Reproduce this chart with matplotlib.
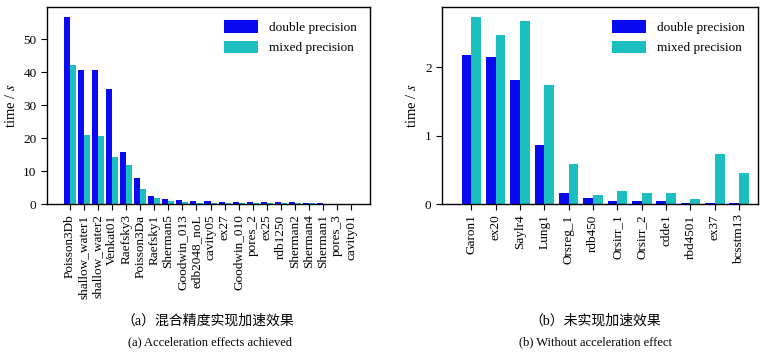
import matplotlib
matplotlib.use("Agg")
import matplotlib.pyplot as plt
import numpy as np

plt.rcParams['font.family'] = ['Liberation Serif', 'Noto Sans CJK SC']
plt.rcParams['font.size'] = 9
plt.rcParams['mathtext.fontset'] = 'stix'

cats_a = ["Poisson3Db", "shallow_water1", "shallow_water2", "Venkat01", "Raefsky3",
          "Poisson3Da", "Raefsky1", "Sherman5", "Goodwin_013", "edb2048_noL",
          "cavity05", "ex27", "Goodwin_010", "pores_2", "ex25", "rdb1250",
          "Sherman2", "Sherman4", "Sherman1", "pores_3", "cavity01"]
double_a = [56.8, 40.6, 40.5, 35.0, 15.8, 8.0, 2.5, 1.6, 1.2, 0.9,
            0.8, 0.7, 0.7, 0.6, 0.6, 0.6, 0.5, 0.45, 0.35, 0.1, 0.05]
mixed_a = [42.0, 21.0, 20.7, 14.1, 11.9, 4.6, 1.7, 1.0, 0.7, 0.4,
           0.35, 0.3, 0.3, 0.3, 0.25, 0.25, 0.25, 0.2, 0.1, 0.15, 0.05]

cats_b = ["Garon1", "ex20", "Saylr4", "Lung1", "Orsreg_1", "rdb450", "Orsirr_1",
          "Orsirr_2", "cdde1", "rbd4501", "ex37", "bcsstm13"]
double_b = [2.18, 2.15, 1.82, 0.86, 0.16, 0.09, 0.04, 0.04, 0.04, 0.02, 0.015, 0.01]
mixed_b = [2.73, 2.47, 2.68, 1.74, 0.58, 0.13, 0.19, 0.16, 0.16, 0.07, 0.73, 0.45]

captions_cn = ["（a）混合精度实现加速效果", "（b）未实现加速效果"]
captions_en = ["(a) Acceleration effects achieved", "(b) Without acceleration effect"]

BLUE = "#0a0af2"
CYAN = "#1bbfbf"

fig = plt.figure(figsize=(7.65, 3.54), dpi=100)
ax1 = fig.add_axes([0.0614, 0.4237, 0.4223, 0.5565])
ax2 = fig.add_axes([0.5778, 0.4237, 0.4130, 0.5565])

def draw(ax, cats, d, m, width, xlim, ylim, yticks):
    x = np.arange(len(cats))
    ax.bar(x - width / 2, d, width, color=BLUE, label="double precision")
    ax.bar(x + width / 2, m, width, color=CYAN, label="mixed precision")
    ax.set_xticks(x)
    ax.set_xticklabels(cats, rotation=90)
    ax.set_xlim(*xlim)
    ax.set_ylim(0, ylim)
    ax.set_yticks(yticks)
    ax.set_ylabel("time / $s$", fontsize=10.5, labelpad=4)
    ax.tick_params(direction='out', length=4, width=0.8, labelsize=9.5)
    for s in ax.spines.values():
        s.set_linewidth(1.0)
    ax.legend(loc='upper right', frameon=False, fontsize=9.5,
              handlelength=2.6, handleheight=1.1, borderaxespad=0.6)

draw(ax1, cats_a, double_a, mixed_a, 0.43, (-1.64, 21.35), 59.7, [0, 10, 20, 30, 40, 50])
draw(ax2, cats_b, double_b, mixed_b, 0.4, (-1.2, 11.77), 2.88, [0, 1, 2])

fig.text(0.272, 0.093, captions_cn[0], ha='center', va='center', fontsize=10)
fig.text(0.275, 0.033, captions_en[0], ha='center', va='center', fontsize=9)
fig.text(0.778, 0.093, captions_cn[1], ha='center', va='center', fontsize=10)
fig.text(0.778, 0.033, captions_en[1], ha='center', va='center', fontsize=9)

fig.savefig("out.png", dpi=100)
